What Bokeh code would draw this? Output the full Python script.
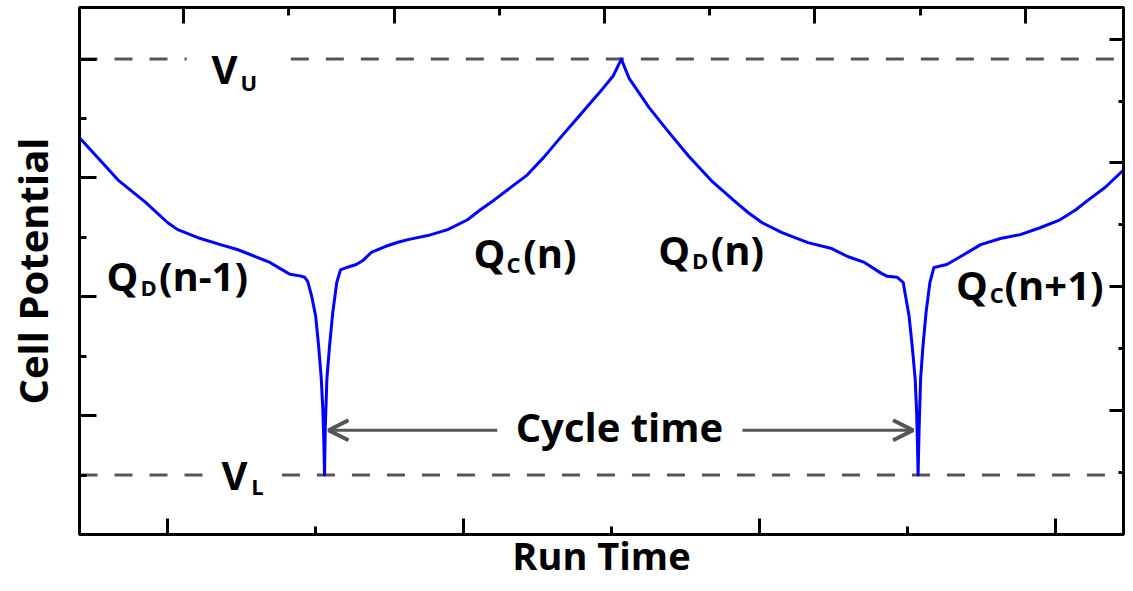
from bokeh.plotting import figure
from bokeh.models import (Range1d, LinearAxis, FixedTicker, CustomJSTickFormatter,
                          Label, Arrow, OpenHead)
from bokeh.embed import file_html
from bokeh.resources import INLINE

# ---------------- data ----------------
run_time = [-0.597, -0.470, -0.336, -0.154, 0.000, 0.067, 0.221, 0.356, 0.470, 0.557,
            0.691, 0.758, 0.826, 0.893, 0.926, 0.946, 0.973, 1.000, 1.020, 1.038,
            1.049, 1.056, 1.060, 1.065, 1.076, 1.094, 1.116, 1.143, 1.168, 1.221,
            1.275, 1.322, 1.376, 1.470, 1.557, 1.624, 1.758, 1.893, 2.027, 2.114,
            2.208, 2.315, 2.430, 2.544, 2.651, 2.785, 2.919, 3.013, 3.067, 3.121,
            3.255, 3.389, 3.523, 3.685, 3.839, 3.926, 4.020, 4.154, 4.329, 4.490,
            4.597, 4.711, 4.826, 4.866, 4.933, 4.973, 4.987, 5.013, 5.034, 5.054,
            5.064, 5.070, 5.074, 5.081, 5.091, 5.107, 5.128, 5.154, 5.181, 5.268,
            5.362, 5.497, 5.631, 5.765, 5.899, 6.034, 6.141, 6.208, 6.342, 6.477]
cell_potential = [3.338, 3.166, 2.982, 2.799, 2.623, 2.565, 2.490, 2.439, 2.398, 2.356,
                  2.289, 2.239, 2.189, 2.176, 2.164, 2.130, 2.005, 1.838, 1.587, 1.312,
                  1.036, 0.752, 0.500, 0.894, 1.312, 1.587, 1.871, 2.122, 2.226, 2.251,
                  2.272, 2.308, 2.373, 2.423, 2.459, 2.481, 2.515, 2.565, 2.648, 2.732,
                  2.815, 2.916, 3.024, 3.175, 3.333, 3.525, 3.718, 3.860, 4.000, 3.835,
                  3.592, 3.383, 3.183, 2.966, 2.799, 2.707, 2.623, 2.540, 2.456, 2.406,
                  2.339, 2.289, 2.197, 2.172, 2.164, 2.122, 2.022, 1.838, 1.587, 1.312,
                  1.036, 0.752, 0.500, 0.894, 1.312, 1.587, 1.871, 2.122, 2.247, 2.272,
                  2.339, 2.439, 2.490, 2.523, 2.581, 2.648, 2.732, 2.799, 2.924, 3.083]
v_upper = 4.0
v_lower = 0.5
cycle_start = 1.087
cycle_end = 5.040

x_major_ticks = [0, 2, 4, 6]
x_minor_ticks = [1, 3, 5]
y_major_ticks = [1, 2, 3, 4]
y_minor_ticks = [0.5, 1.5, 2.5, 3.5]
top_major_ticks = [0, 2, 4, 6, 8]
top_minor_ticks = [1, 3, 5, 7]
right_major_ticks = [0, 2, 4, 6, 8]
right_minor_ticks = [1, 3, 5, 7]

x_title = "Run Time"
y_title = "Cell Potential"
cycle_text = "Cycle time"

# ---------------- figure ----------------
FONT = "Open Sans"
X0, X1 = -0.597, 6.463
p = figure(width=1125, height=583, x_range=Range1d(X0, X1), y_range=Range1d(0, 4.434),
           output_backend="svg", toolbar_location=None, title=None,
           x_axis_location=None, y_axis_location=None,
           min_border_left=79, min_border_right=2, min_border_top=7, min_border_bottom=0)
p.extra_x_ranges = {"top": Range1d(-0.991, 8.934)}
p.extra_y_ranges = {"right": Range1d(0, 8.51)}
p.grid.visible = False
p.outline_line_color = "black"
p.outline_line_width = 3
p.background_fill_color = "white"
p.border_fill_color = "white"

bottom_axis = LinearAxis()
left_axis = LinearAxis()
top_axis = LinearAxis(x_range_name="top")
right_axis = LinearAxis(y_range_name="right")
p.add_layout(bottom_axis, "below")
p.add_layout(left_axis, "left")
p.add_layout(top_axis, "above")
p.add_layout(right_axis, "right")

def style_axis(ax, major, minor, maj_len, min_len):
    ax.ticker = FixedTicker(ticks=major, minor_ticks=minor)
    ax.formatter = CustomJSTickFormatter(code="return ''")
    ax.major_label_text_font_size = "0px"
    ax.major_label_standoff = 0
    ax.axis_label_standoff = 0
    ax.axis_line_color = "black"
    ax.axis_line_width = 3
    ax.major_tick_line_color = "black"
    ax.major_tick_line_width = 3
    ax.minor_tick_line_color = "black"
    ax.minor_tick_line_width = 3
    ax.major_tick_in = maj_len
    ax.major_tick_out = 0
    ax.minor_tick_in = min_len
    ax.minor_tick_out = 0

style_axis(bottom_axis, x_major_ticks, x_minor_ticks, 16, 8)
style_axis(left_axis, y_major_ticks, y_minor_ticks, 17, 7)
style_axis(top_axis, top_major_ticks, top_minor_ticks, 16, 8)
style_axis(right_axis, right_major_ticks, right_minor_ticks, 14, 5)

for ax, title, size, standoff in ((bottom_axis, x_title, "38px", -6),
                                  (left_axis, y_title, "40px", 20)):
    ax.axis_label = title
    ax.axis_label_text_font = FONT
    ax.axis_label_text_font_style = "bold"
    ax.axis_label_text_font_size = size
    ax.axis_label_text_color = "black"
    ax.axis_label_standoff = standoff

# dashed limit lines (with gaps behind the V labels)
DASH_COLOR = "#555555"
p.segment(x0=[X0, 0.832], x1=[0.128, X1], y0=[v_upper, v_upper], y1=[v_upper, v_upper],
          line_color=DASH_COLOR, line_width=3, line_dash="18 17")
p.segment(x0=[X0, 0.772], x1=[0.248, X1], y0=[v_lower, v_lower], y1=[v_lower, v_lower],
          line_color=DASH_COLOR, line_width=3, line_dash="18 17")

# potential curve
p.line(run_time, cell_potential, line_color="#0000FF", line_width=3, line_join="round")

# cycle time arrows
arrow_y = 0.877
for xs, xe in ((2.228, cycle_start), (3.886, cycle_end)):
    p.add_layout(Arrow(end=OpenHead(size=20, line_color=DASH_COLOR, line_width=4),
                       x_start=xs, y_start=arrow_y, x_end=xe, y_end=arrow_y,
                       line_color=DASH_COLOR, line_width=3))

DY = 0.10  # baseline correction
def txt(x, y, s, size, align="left"):
    p.add_layout(Label(x=x, y=y + DY, text=s, text_font=FONT, text_font_style="bold",
                       text_font_size=size, text_color="black",
                       text_baseline="alphabetic", text_align=align))

MAIN, SUB = "40px", "22px"
# Q_D(n-1)
txt(-0.415, 2.080, "Q", MAIN); txt(-0.185, 1.980, "D", SUB); txt(-0.060, 2.080, "(n-1)", MAIN)
# Q_C(n)
txt(2.068, 2.272, "Q", MAIN); txt(2.290, 2.172, "C", SUB); txt(2.403, 2.272, "(n)", MAIN)
# Q_D(n)
txt(3.316, 2.297, "Q", MAIN); txt(3.545, 2.206, "D", SUB); txt(3.672, 2.297, "(n)", MAIN)
# Q_C(n+1)
txt(5.330, 2.005, "Q", MAIN); txt(5.559, 1.921, "C", SUB); txt(5.658, 2.005, "(n+1)", MAIN)
# V_U and V_L
txt(0.296, 3.818, "V", MAIN); txt(0.492, 3.709, "U", SUB)
txt(0.363, 0.401, "V", MAIN); txt(0.565, 0.309, "L", SUB)
# Cycle time
txt(3.054, 0.810, cycle_text, "40px", align="center")

open("out.html", "w").write(file_html(p, INLINE))
